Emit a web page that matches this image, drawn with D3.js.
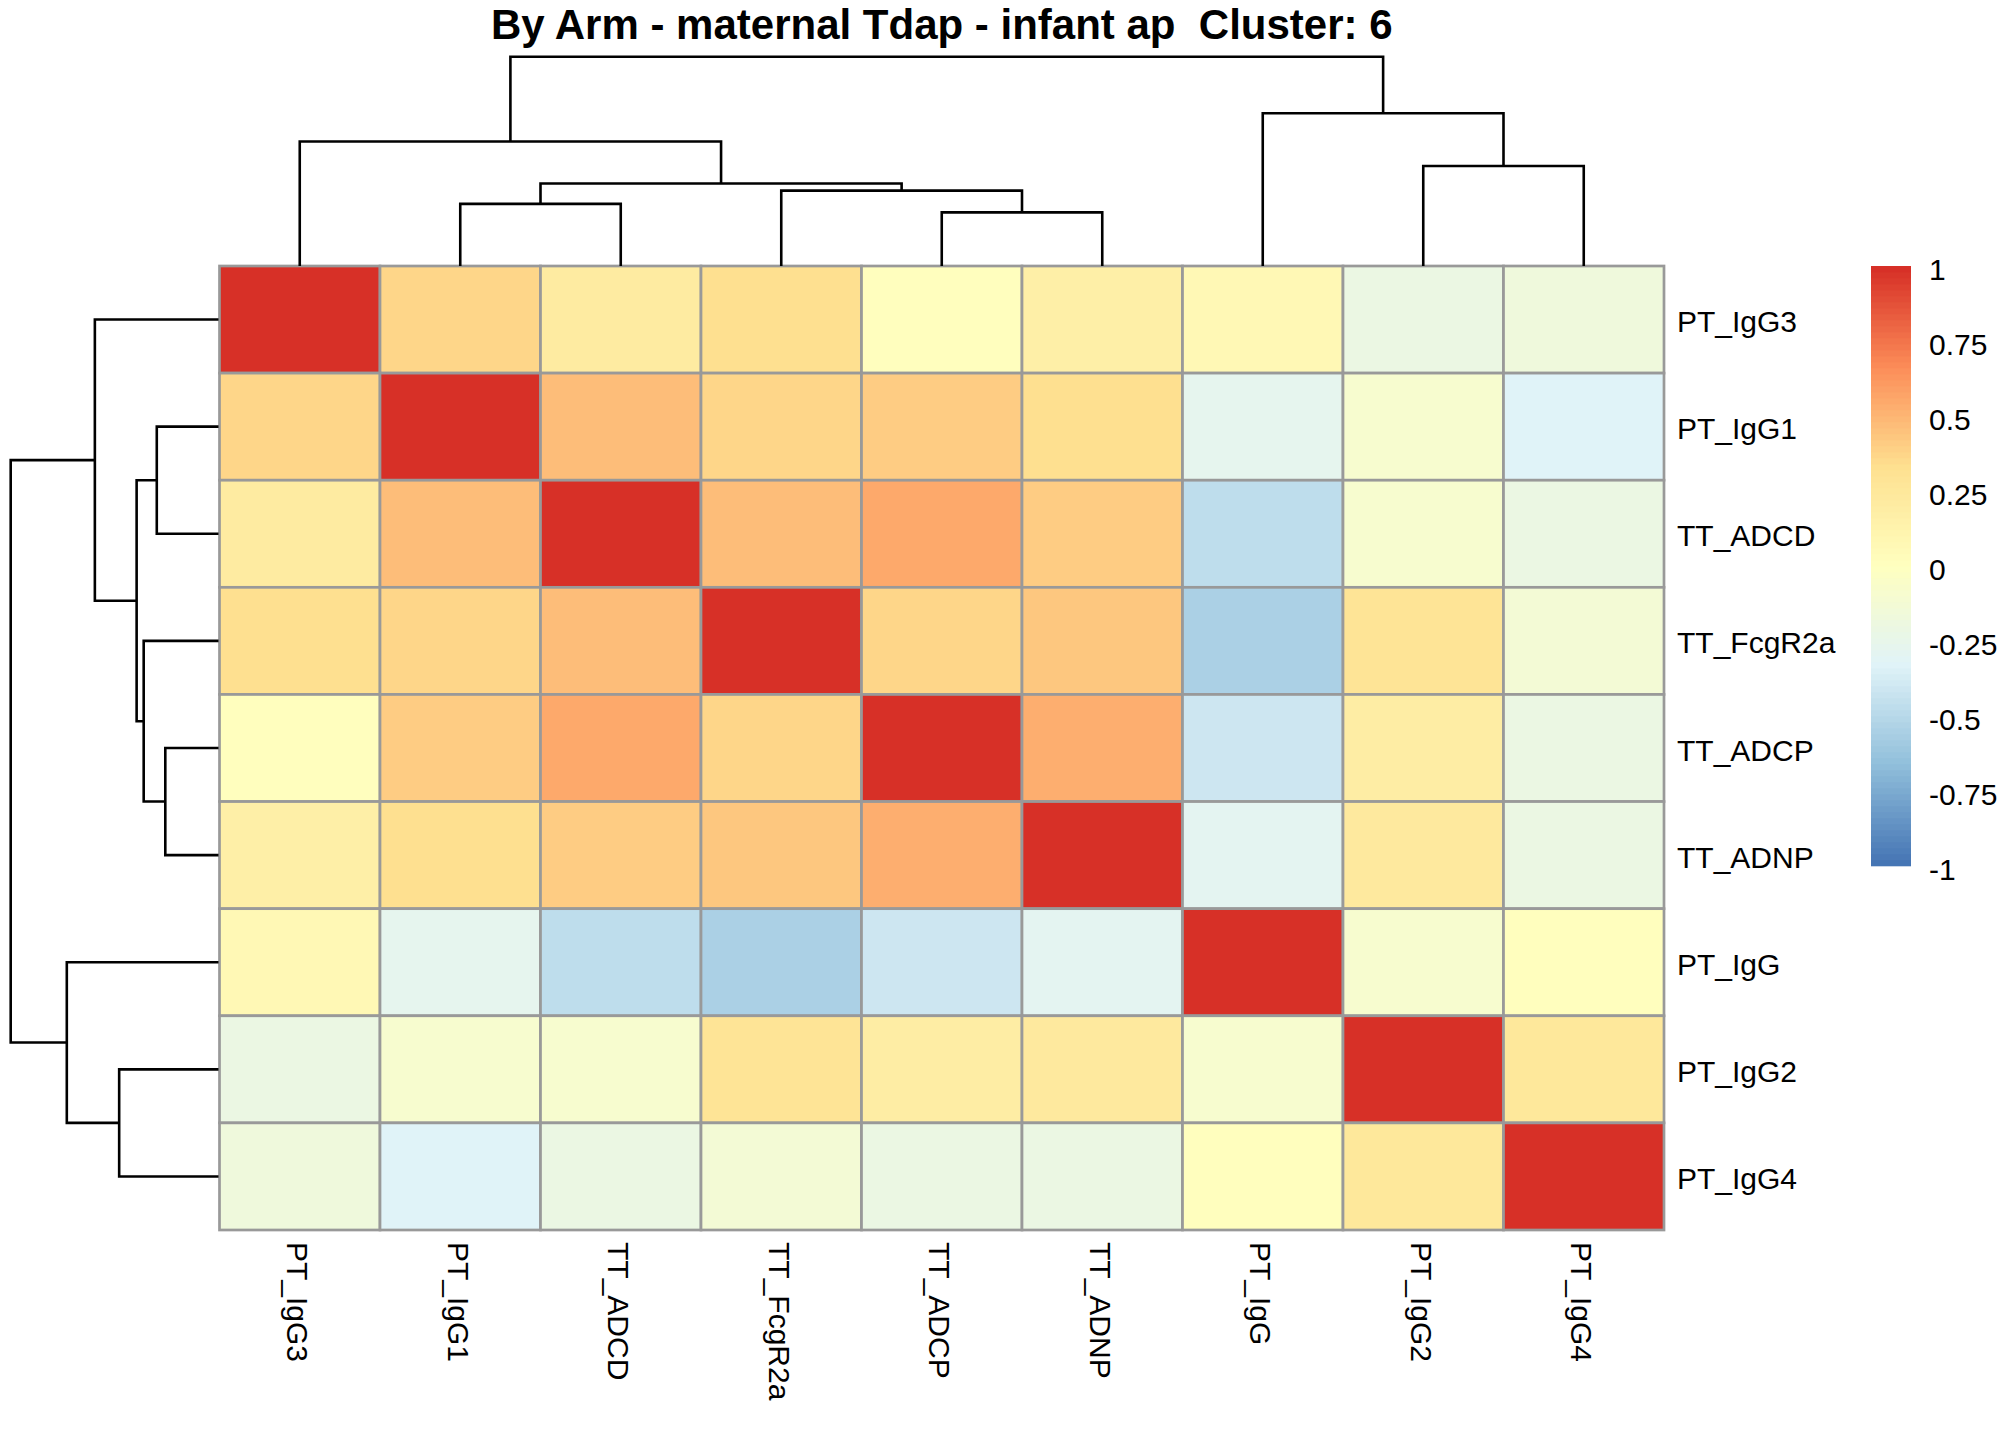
<!DOCTYPE html>
<html>
<head>
<meta charset="utf-8">
<script src="https://cdn.jsdelivr.net/npm/d3@7"></script>
<style>
  body { margin: 0; background: #fff; }
  text { font-family: "Liberation Sans", Arial, sans-serif; fill: #000; white-space: pre; }
</style>
</head>
<body>
<svg id="chart" width="2016" height="1440"></svg>
<script>
// leaf order as drawn (rows and columns share it)
var labels = ["PT_IgG3", "PT_IgG1", "TT_ADCD", "TT_FcgR2a", "TT_ADCP", "TT_ADNP", "PT_IgG", "PT_IgG2", "PT_IgG4"];

// correlation matrix, rows/cols in the order above
var corValues = [
    [1.00, 0.37, 0.20, 0.32, 0.01, 0.16, 0.07, -0.22, -0.17],
    [0.37, 1.00, 0.47, 0.37, 0.40, 0.32, -0.28, -0.10, -0.33],
    [0.20, 0.47, 1.00, 0.47, 0.54, 0.40, -0.47, -0.10, -0.22],
    [0.32, 0.37, 0.47, 1.00, 0.36, 0.42, -0.56, 0.28, -0.13],
    [0.01, 0.40, 0.54, 0.36, 1.00, 0.53, -0.41, 0.19, -0.22],
    [0.16, 0.32, 0.40, 0.42, 0.53, 1.00, -0.29, 0.23, -0.22],
    [0.07, -0.28, -0.47, -0.56, -0.41, -0.29, 1.00, -0.10, 0.01],
    [-0.22, -0.10, -0.10, 0.28, 0.19, 0.23, -0.10, 1.00, 0.24],
    [-0.17, -0.33, -0.22, -0.13, -0.22, -0.22, 0.01, 0.24, 1.00]
];

// hclust style merges: negative = leaf (1-based in labels), positive = earlier merge
var mergePairs = [[-5, -6], [-2, -3], [-4, 1], [2, 3], [-8, -9], [-1, 4], [-7, 5], [6, 7]];
var mergeHeights = [0.256, 0.297, 0.36, 0.394, 0.478, 0.595, 0.73, 1.0];

var legendTicks = [1, 0.75, 0.5, 0.25, 0, -0.25, -0.5, -0.75, -1];
var legendTickLabels = ["1", "0.75", "0.5", "0.25", "0", "-0.25", "-0.5", "-0.75", "-1"];

var titleText = "By Arm - maternal Tdap - infant ap  Cluster: 6";

// rev(brewer.pal(7, "RdYlBu")) ramped to 100 colours
var paletteBase = ["#4575b4", "#91bfdb", "#e0f3f8", "#ffffbf", "#fee090", "#fc8d59", "#d73027"];

var svg = d3.select("#chart");
svg.append("rect").attr("width", 2016).attr("height", 1440).attr("fill", "#fff");

var interp = d3.piecewise(d3.interpolateRgb, paletteBase);
var ramp = d3.range(100).map(function (i) { return interp(i / 99); });
var color = d3.scaleQuantize().domain([-1, 1]).range(ramp);

var x = d3.scaleBand().domain(labels).range([219.5, 1664]);
var y = d3.scaleBand().domain(labels).range([266, 1230]);

// cells
var cells = [];
corValues.forEach(function (row, i) {
    row.forEach(function (v, j) {
        cells.push({ r: labels[i], c: labels[j], v: v });
    });
});

svg.append("g")
    .selectAll("rect")
    .data(cells)
    .enter()
    .append("rect")
    .attr("x", function (d) { return x(d.c); })
    .attr("y", function (d) { return y(d.r); })
    .attr("width", x.bandwidth())
    .attr("height", y.bandwidth())
    .attr("fill", function (d) { return color(d.v); })
    .attr("stroke", "#999999")
    .attr("stroke-width", 2.7);

// dendrograms
function buildTree(leafPos) {
    var nodes = [];
    function get(id) {
        if (id < 0) return { p: leafPos(labels[-id - 1]), h: 0 };
        return nodes[id - 1];
    }
    mergePairs.forEach(function (m, k) {
        var a = get(m[0]), b = get(m[1]);
        nodes.push({ p: (a.p + b.p) / 2, h: mergeHeights[k], a: a, b: b });
    });
    return nodes;
}

var maxH = d3.max(mergeHeights);

var colNodes = buildTree(function (l) { return x(l) + x.bandwidth() / 2; });
var colH = d3.scaleLinear().domain([0, maxH]).range([266, 56.7]);
svg.append("g")
    .selectAll("path")
    .data(colNodes)
    .enter()
    .append("path")
    .attr("d", function (n) {
        return "M" + n.a.p + "," + colH(n.a.h) + "V" + colH(n.h) +
            "H" + n.b.p + "V" + colH(n.b.h);
    })
    .attr("fill", "none")
    .attr("stroke", "#000")
    .attr("stroke-width", 2.6);

var rowNodes = buildTree(function (l) { return y(l) + y.bandwidth() / 2; });
var rowH = d3.scaleLinear().domain([0, maxH]).range([218.5, 10.7]);
svg.append("g")
    .selectAll("path")
    .data(rowNodes)
    .enter()
    .append("path")
    .attr("d", function (n) {
        return "M" + rowH(n.a.h) + "," + n.a.p + "H" + rowH(n.h) +
            "V" + n.b.p + "H" + rowH(n.b.h);
    })
    .attr("fill", "none")
    .attr("stroke", "#000")
    .attr("stroke-width", 2.6);

// row labels
svg.append("g")
    .selectAll("text")
    .data(labels)
    .enter()
    .append("text")
    .attr("x", 1677)
    .attr("y", function (d) { return y(d) + y.bandwidth() / 2 + 12.5; })
    .attr("font-size", 30)
    .text(function (d) { return d; });

// column labels, reading downwards
svg.append("g")
    .selectAll("text")
    .data(labels)
    .enter()
    .append("text")
    .attr("transform", function (d) {
        return "translate(" + (x(d) + x.bandwidth() / 2) + ",1242) rotate(90)";
    })
    .attr("dy", 12.5)
    .attr("font-size", 30)
    .text(function (d) { return d; });

// title
svg.append("text")
    .attr("x", 219.5 + (1664 - 219.5) / 2)
    .attr("y", 39)
    .attr("text-anchor", "middle")
    .attr("font-size", 42)
    .attr("font-weight", "bold")
    .attr("xml:space", "preserve")
    .text(titleText);

// legend
var legY = d3.scaleLinear().domain([-1, 1]).range([866, 266]);
var step = 2 / ramp.length;
svg.append("g")
    .selectAll("rect")
    .data(ramp)
    .enter()
    .append("rect")
    .attr("x", 1871)
    .attr("width", 40)
    .attr("y", function (d, i) { return legY(-1 + (i + 1) * step); })
    .attr("height", function (d, i) { return legY(-1 + i * step) - legY(-1 + (i + 1) * step) + 0.3; })
    .attr("fill", function (d) { return d; });

svg.append("g")
    .selectAll("text")
    .data(legendTicks)
    .enter()
    .append("text")
    .attr("x", 1929)
    .attr("y", function (d) { return legY(d) + 13.5; })
    .attr("font-size", 30)
    .text(function (d, i) { return legendTickLabels[i]; });
</script>
</body>
</html>
